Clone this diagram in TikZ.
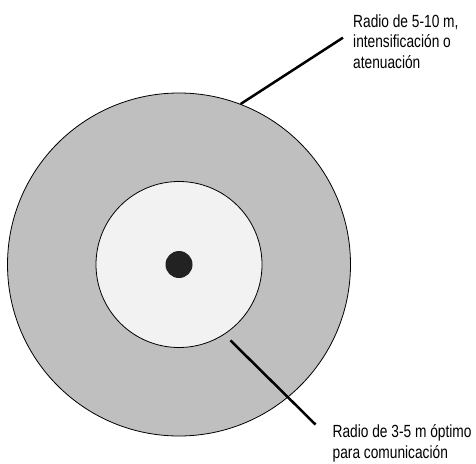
\documentclass[tikz,border=0pt]{standalone}
\usepackage{fontspec}
\setmainfont{Liberation Sans}[FakeStretch=0.78]
\usepackage{tikz}
\definecolor{ringgray}{RGB}{191,191,191}
\definecolor{corelight}{RGB}{242,242,242}
\definecolor{dotdark}{RGB}{34,34,34}

\begin{document}
\begin{tikzpicture}[x=1pt, y=-1pt,
  font=\fontsize{17.6}{20.5}\selectfont,
  zone/.style={circle, draw, line width=0.8pt, inner sep=0pt},
  lbl/.style={align=left, inner ysep=0pt},
  lead/.style={line width=2.5pt}
]
\useasboundingbox (0,0) rectangle (476,463);

\node[zone, fill=ringgray,  minimum size=343pt] (outer) at (179,264.5) {};
\node[zone, fill=corelight, minimum size=166pt] (inner) at (179,264.5) {};
\node[circle, fill=dotdark, minimum size=27pt, inner sep=0pt] (tx) at (179,264.5) {};

\node[lbl, anchor=north west, inner xsep=10pt] (lab5) at (343,14.5)  {Radio de 5-10 m,\\intensificación o\\atenuación};
\node[lbl, anchor=north west, inner xsep=17pt] (lab3) at (315.5,424.5) {Radio de 3-5 m óptimo\\para comunicación};

\draw[lead] (outer.69) -- ([yshift=4pt]lab5.west);
\draw[lead, shorten <=8.5pt] (inner.-57) -- (lab3.north west);

\end{tikzpicture}
\end{document}
